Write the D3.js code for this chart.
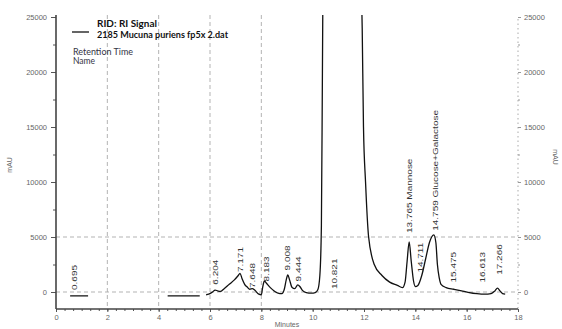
<!DOCTYPE html>
<html><head><meta charset="utf-8">
<script src="https://cdn.jsdelivr.net/npm/d3@7"></script>
<style>html,body{margin:0;padding:0;background:#fff;}svg{display:block;}</style>
</head><body>
<svg id="c" width="562" height="329"></svg>
<script>
// ---- data ----
const xTicks = [0, 2, 4, 6, 8, 10, 12, 14, 16, 18];
const yTicks = [0, 5000, 10000, 15000, 20000, 25000];
const gridMinutes = [2, 4, 6, 8];
const gridLevels = [0, 5000];
// signal (null = gap)
const sigTime = [0.55, 1.25, null, 4.35, 5.6, null,
  5.85, 5.95, 6.1, 6.2, 6.3, 6.4, 6.55, 6.75, 6.95, 7.1, 7.17, 7.25, 7.35, 7.45, 7.55, 7.65, 7.75, 7.9, 8.0,
  8.05, 8.12, 8.2, 8.35, 8.5, 8.65, 8.8, 8.9, 8.97, 9.03, 9.1, 9.2, 9.3, 9.42, 9.5, 9.6, 9.75, 9.95, 10.1,
  10.2, 10.28, 10.34, 10.38, 10.45, 10.8, 11.5, 11.86, 11.93, 11.98, 12.06, 12.18, 12.4, 12.7, 13.0, 13.3, 13.5,
  13.6, 13.68, 13.76, 13.84, 13.93, 14.0, 14.1, 14.25, 14.4, 14.55, 14.72, 14.8, 14.86, 14.93, 15.0, 15.2, 15.5,
  15.8, 16.1, 16.4, 16.7, 16.95, 17.1, 17.2, 17.3, 17.4, 17.5];
const sigValue = [-350, -350, null, -350, -350, null,
  -250, -200, 0, 180, 100, 50, 300, 700, 1100, 1500, 1700, 1200, 700, 450, 250, 300, 150, -200, -250,
  400, 1000, 800, 400, 100, -100, -150, 300, 1100, 1550, 1100, 400, 300, 650, 500, 150, -50, -100, -50,
  200, 1500, 6000, 20000, 45000, 80000, 60000, 32000, 24000, 15000, 10000, 5000, 2500, 1500, 900, 600, 400,
  900, 2800, 4550, 2800, 1000, 500, 600, 1500, 3000, 4500, 5200, 4500, 2500, 1300, 700, 400, 250,
  100, -50, -150, -200, -150, 100, 350, 100, -150, -200];
// peak annotations
const peakTimes = [0.695, 6.204, 7.171, 7.648, 8.183, 9.008, 9.444, 10.821, 13.765, 14.711, 14.759, 15.475, 16.613, 17.266];
const peakNames = ["", "", "", "", "", "", "", "", "Mannose", "", "Glucose+Galactose", "", "", ""];
const peakHeights = [-300, 300, 1450, 0, 600, 1600, 600, -100, 5000, 1400, 5200, 500, 500, 1200];

// ---- chart ----
const svg = d3.select("#c");
const L = 56, R = 518, T = 15, B = 309;
const x = d3.scaleLinear().domain([0, 18]).range([L, R]);
const y = d3.scaleLinear().domain([-1545, 25000]).range([B, 17]);
const font = "'Liberation Sans', Arial, sans-serif";

// grid
svg.append("g").selectAll("line").data(gridMinutes).join("line")
  .attr("x1", d => x(d)).attr("x2", d => x(d)).attr("y1", T).attr("y2", B)
  .attr("stroke", "#aaa").attr("stroke-width", 0.9).attr("stroke-dasharray", "4,3");
svg.append("g").selectAll("line").data(gridLevels).join("line")
  .attr("x1", L).attr("x2", R).attr("y1", d => y(d)).attr("y2", d => y(d))
  .attr("stroke", "#aaa").attr("stroke-width", 0.9).attr("stroke-dasharray", "4,3");

// signal
svg.append("clipPath").attr("id", "clip").append("rect")
  .attr("x", L).attr("y", T).attr("width", R - L).attr("height", B - T);
const pts = sigTime.map((t, i) => [t, sigValue[i]]);
const line = d3.line().defined(d => d[0] !== null).x(d => x(d[0])).y(d => y(d[1])).curve(d3.curveMonotoneX);
svg.append("path").attr("d", line(pts)).attr("clip-path", "url(#clip)")
  .attr("fill", "none").attr("stroke", "#111").attr("stroke-width", 1.3);

// left axis
const yMinor = d3.range(0, 25001, 2500);
const gl = svg.append("g").attr("transform", `translate(${L},0)`)
  .call(d3.axisLeft(y).tickValues(yMinor).tickSize(3).tickFormat(""));
gl.select(".domain").remove();
gl.selectAll("line").attr("stroke", "#555");
const gl2 = svg.append("g").attr("transform", `translate(${L},0)`)
  .call(d3.axisLeft(y).tickValues(yTicks).tickSize(5).tickPadding(4).tickFormat(d3.format("d")));
gl2.select(".domain").remove();
gl2.selectAll("line").attr("stroke", "#555");
gl2.selectAll("text").attr("font-family", font).attr("font-size", 7.5).attr("fill", "#666");
svg.append("line").attr("x1", L).attr("x2", L).attr("y1", T).attr("y2", B)
  .attr("stroke", "#444").attr("stroke-width", 1.6);

// right axis
svg.append("line").attr("x1", R).attr("x2", R).attr("y1", T + 4).attr("y2", B)
  .attr("stroke", "#aaa").attr("stroke-width", 1).attr("stroke-dasharray", "1.5,3");
const gr = svg.append("g").attr("transform", `translate(${R},0)`)
  .call(d3.axisRight(y).tickValues(yMinor).tickSize(2).tickFormat(""));
gr.select(".domain").remove();
gr.selectAll("line").attr("stroke", "#999");
const gr2 = svg.append("g").attr("transform", `translate(${R},0)`)
  .call(d3.axisRight(y).tickValues(yTicks).tickSize(3).tickPadding(3).tickFormat(d3.format("d")));
gr2.select(".domain").remove();
gr2.selectAll("line").attr("stroke", "#999");
gr2.selectAll("text").attr("font-family", font).attr("font-size", 7.5).attr("fill", "#666");

// bottom axis
const xMinor = d3.range(0, 18.001, 1 / 3);
const gb = svg.append("g").attr("transform", `translate(0,${B})`)
  .call(d3.axisBottom(x).tickValues(xMinor).tickSize(2).tickFormat(""));
gb.select(".domain").remove();
gb.selectAll("line").attr("stroke", "#555");
const gb2 = svg.append("g").attr("transform", `translate(0,${B})`)
  .call(d3.axisBottom(x).tickValues(xTicks).tickSize(3).tickPadding(3).tickFormat(d3.format("d")));
gb2.select(".domain").remove();
gb2.selectAll("line").attr("stroke", "#555");
gb2.selectAll("text").attr("font-family", font).attr("font-size", 7.5).attr("fill", "#666");
svg.append("line").attr("x1", L).attr("x2", R).attr("y1", B).attr("y2", B)
  .attr("stroke", "#444").attr("stroke-width", 1.6);

// axis titles
svg.append("text").attr("transform", "translate(12,165) rotate(-90)").attr("text-anchor", "middle")
  .attr("font-family", font).attr("font-size", 7).attr("fill", "#666").text("mAU");
svg.append("text").attr("transform", "translate(553,157) rotate(90)").attr("text-anchor", "middle")
  .attr("font-family", font).attr("font-size", 7).attr("fill", "#666").text("mAU");
svg.append("text").attr("x", 287).attr("y", 327).attr("text-anchor", "middle")
  .attr("font-family", font).attr("font-size", 7).attr("fill", "#666").text("Minutes");

// peak labels
const labels = peakTimes.map((t, i) => {
  let px = x(t);
  if (i + 1 < peakTimes.length && x(peakTimes[i + 1]) - px < 6) px -= 14;
  const txt = peakTimes[i].toFixed(3) + (peakNames[i] ? " " + peakNames[i] : "");
  const py = Math.min(y(peakHeights[i]) - 4, 290);
  return {px, py, txt};
});
svg.append("g").selectAll("text").data(labels).join("text")
  .attr("transform", d => `translate(${d.px + 3},${d.py}) rotate(-90) scale(1.25,1)`)
  .attr("font-family", font).attr("font-size", 8).attr("fill", "#333")
  .text(d => d.txt);

// legend
const lfont = "Lato, 'Open Sans', sans-serif";
svg.append("line").attr("x1", 72).attr("x2", 89).attr("y1", 32).attr("y2", 32)
  .attr("stroke", "#111").attr("stroke-width", 1.3);
svg.append("text").attr("x", 97).attr("y", 27).attr("font-family", lfont).attr("font-weight", "bold")
  .attr("font-size", 9.5).attr("fill", "#111").attr("textLength", 60).attr("lengthAdjust", "spacingAndGlyphs")
  .text("RID: RI Signal");
svg.append("text").attr("x", 97).attr("y", 38).attr("font-family", lfont).attr("font-weight", "bold")
  .attr("font-size", 9.5).attr("fill", "#111").attr("textLength", 131).attr("lengthAdjust", "spacingAndGlyphs")
  .text("2185 Mucuna puriens fp5x 2.dat");
svg.append("text").attr("x", 73).attr("y", 55).attr("font-family", lfont)
  .attr("font-size", 8.5).attr("fill", "#334").attr("textLength", 60).attr("lengthAdjust", "spacingAndGlyphs")
  .text("Retention Time");
svg.append("text").attr("x", 73).attr("y", 63.5).attr("font-family", lfont)
  .attr("font-size", 8.5).attr("fill", "#334").text("Name");
</script>
</body></html>
